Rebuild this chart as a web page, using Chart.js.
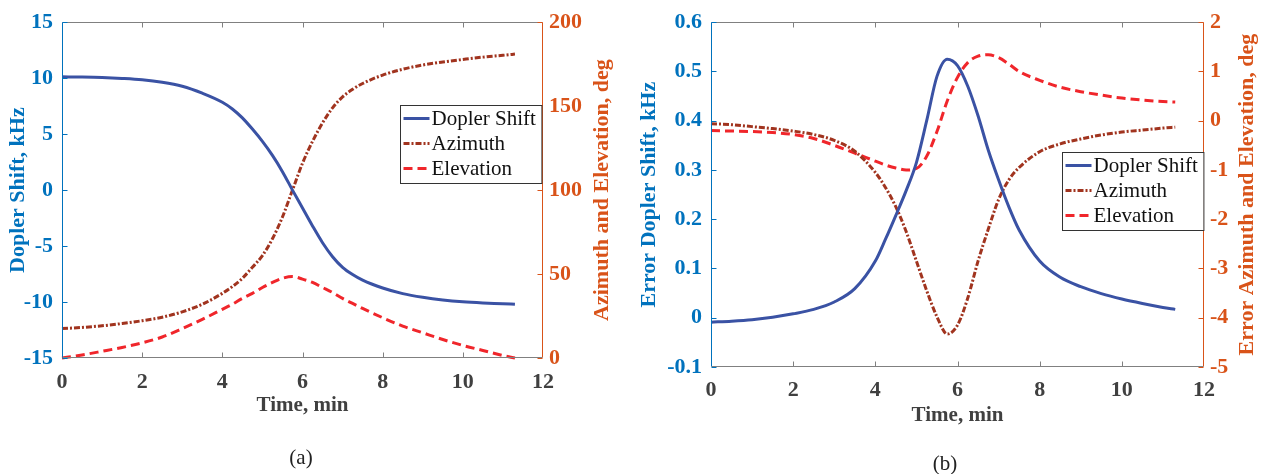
<!DOCTYPE html>
<html>
<head>
<meta charset="utf-8">
<script src="https://cdn.jsdelivr.net/npm/chart.js@4.4.1/dist/chart.umd.min.js"></script>
<style>
  body { margin: 0; background: #fff; width: 1267px; height: 474px; position: relative; overflow: hidden; }
  .box { position: absolute; top: 0; height: 474px; }
  #boxA { left: 0; width: 634px; }
  #boxB { left: 634px; width: 633px; }
  .cap { position: absolute; font: 21px "Liberation Serif", "Times New Roman", serif; color: #222; transform: translateX(-50%); line-height: 24px; }
</style>
</head>
<body>
<div class="box" id="boxA"><canvas id="chartA"></canvas></div>
<div class="box" id="boxB"><canvas id="chartB"></canvas></div>
<div class="cap" style="left:301px; top:445px">(a)</div>
<div class="cap" style="left:945px; top:451px">(b)</div>
<script>
// time axis (min), shared by all series
const time = [0, 0.5, 1, 1.5, 2, 2.5, 3, 3.5, 4, 4.25, 4.5, 4.75, 5, 5.25, 5.5, 5.75,
              6, 6.25, 6.5, 6.75, 7, 7.25, 7.5, 8, 8.5, 9, 9.5, 10, 10.5, 11, 11.3];

// (a) Doppler shift (kHz), azimuth and elevation (deg)
const dopplerA = [10.12, 10.10, 10.06, 9.98, 9.86, 9.64, 9.28, 8.66, 7.85, 7.25, 6.45, 5.45, 4.35, 3.1, 1.65, 0,
                  -1.6, -3.2, -4.7, -5.95, -6.9, -7.55, -8.05, -8.75, -9.25, -9.58, -9.82, -9.98, -10.08, -10.15, -10.2];
const azimuthA = [17.5, 18.2, 19.2, 20.5, 22.2, 24.3, 27.5, 32, 38.5, 42.5, 47.5, 54, 61, 71, 84, 100,
                  116, 129, 140, 149, 155.5, 160, 163.5, 168.5, 172, 174.5, 176.3, 177.8, 179.2, 180.3, 181];
const elevationA = [0, 1.8, 4, 6.3, 9, 12.5, 17.5, 23, 29, 32, 35.5, 38.5, 42, 45, 47.5, 48.5,
                    47, 45, 42, 39, 35.5, 32.5, 29.5, 24, 19, 15, 11, 7.5, 4.5, 1.5, 0];

// (b) errors
const dopplerB = [-0.009, -0.007, -0.004, 0.001, 0.008, 0.017, 0.032, 0.059, 0.115, 0.16, 0.208, 0.258, 0.315, 0.40, 0.49, 0.525,
                  0.512, 0.47, 0.41, 0.34, 0.28, 0.225, 0.178, 0.115, 0.082, 0.063, 0.049, 0.038, 0.029, 0.021, 0.017];
const azimuthB = [-0.06, -0.08, -0.12, -0.16, -0.21, -0.28, -0.4, -0.62, -1.05, -1.36, -1.75, -2.25, -2.85, -3.45, -3.98, -4.33,
                  -4.15, -3.6, -2.85, -2.2, -1.6, -1.2, -0.95, -0.63, -0.47, -0.37, -0.29, -0.23, -0.19, -0.15, -0.13];
const elevationB = [-0.2, -0.21, -0.22, -0.24, -0.28, -0.36, -0.5, -0.66, -0.82, -0.9, -0.96, -1.0, -0.97, -0.72, -0.22, 0.4,
                    0.88, 1.18, 1.31, 1.34, 1.28, 1.15, 1.0, 0.82, 0.68, 0.59, 0.52, 0.46, 0.42, 0.39, 0.38];

const seriesNames = ['Dopler Shift', 'Azimuth', 'Elevation'];

const BLUE = '#0072BD', ORANGE = '#D95319', GRAY = '#404040';
const SERIF = '"Liberation Serif", "Times New Roman", serif';
const tickFont = { family: SERIF, size: 22, weight: 'bold' };
const xTitleFont = { family: SERIF, size: 21, weight: 'bold' };
const yTitleFont = { family: SERIF, size: 22, weight: 'bold' };

const pts = arr => time.map((t, i) => ({ x: t, y: arr[i] }));
const fmt = v => String(Math.round(v * 100) / 100);

function makeDatasets(dop, az, el) {
  const common = { pointRadius: 0, borderWidth: 3, fill: false, cubicInterpolationMode: 'monotone', clip: 6 };
  return [
    { ...common, label: seriesNames[0], data: pts(dop), yAxisID: 'y', borderColor: '#3A52A4' },
    { ...common, label: seriesNames[1], data: pts(az), yAxisID: 'y1', borderColor: '#A1341F', borderDash: [6, 2, 2, 2] },
    { ...common, label: seriesNames[2], data: pts(el), yAxisID: 'y1', borderColor: '#F0262B', borderDash: [9, 5] }
  ];
}

// box, inward ticks, right-hand title and legend
const frame = {
  id: 'frame',
  afterDatasetsDraw(chart, args, opts) {
    const { ctx, chartArea: a, scales } = chart;
    const L = Math.round(a.left) + 0.5, R = Math.round(a.right) - 0.5;
    const T = Math.round(a.top) + 0.5, B = Math.round(a.bottom) - 0.5;
    const seg = (x1, y1, x2, y2, c) => {
      ctx.strokeStyle = c; ctx.beginPath(); ctx.moveTo(x1, y1); ctx.lineTo(x2, y2); ctx.stroke();
    };
    ctx.save();
    ctx.lineWidth = 1;
    seg(L, T, R, T, '#808080');
    seg(L, B, R, B, '#808080');
    scales.x.ticks.forEach(tk => {
      const x = Math.round(scales.x.getPixelForValue(tk.value)) + 0.5;
      if (x <= L + 1 || x >= R - 1) return;
      seg(x, B, x, B - 5, '#808080');
      seg(x, T, x, T + 5, '#808080');
    });
    scales.y.ticks.forEach(tk => {
      const y = Math.round(scales.y.getPixelForValue(tk.value)) + 0.5;
      seg(L, y, L + 5, y, BLUE);
    });
    scales.y1.ticks.forEach(tk => {
      const y = Math.round(scales.y1.getPixelForValue(tk.value)) + 0.5;
      seg(R, y, R - 5, y, ORANGE);
    });
    seg(L, T, L, B, BLUE);
    seg(R, T, R, B, ORANGE);

    // right axis title, reading bottom to top
    ctx.save();
    ctx.translate(opts.rightTitleX, (a.top + a.bottom) / 2);
    ctx.rotate(-Math.PI / 2);
    ctx.fillStyle = ORANGE;
    ctx.font = 'bold 22px ' + SERIF;
    ctx.textAlign = 'center';
    ctx.textBaseline = 'middle';
    ctx.fillText(opts.rightTitle, 0, 0);
    ctx.restore();

    // legend
    ctx.font = '21px ' + SERIF;
    const sets = chart.data.datasets;
    const tw = Math.max(...sets.map(d => ctx.measureText(d.label).width));
    const w = 3 + 26 + 3 + tw + 5, h = sets.length * 25 + 3;
    const x0 = Math.round(opts.legendRight - w) + 0.5, y0 = Math.round(opts.legendTop) + 0.5;
    ctx.fillStyle = '#fff';
    ctx.fillRect(x0, y0, w, h);
    ctx.strokeStyle = '#333';
    ctx.strokeRect(x0, y0, w, h);
    sets.forEach((d, i) => {
      const yc = y0 + 13 + i * 25;
      ctx.save();
      ctx.strokeStyle = d.borderColor;
      ctx.lineWidth = 3;
      ctx.setLineDash(d.borderDash || []);
      ctx.beginPath(); ctx.moveTo(x0 + 3, yc); ctx.lineTo(x0 + 29, yc); ctx.stroke();
      ctx.restore();
      ctx.fillStyle = '#111';
      ctx.textAlign = 'left';
      ctx.textBaseline = 'middle';
      ctx.fillText(d.label, x0 + 31, yc + 1);
    });
    ctx.restore();
  }
};

function makeChart(id, cfg) {
  const noGrid = { display: false, drawTicks: false };
  return new Chart(document.getElementById(id), {
    type: 'line',
    data: { datasets: makeDatasets(cfg.dop, cfg.az, cfg.el) },
    plugins: [frame],
    options: {
      responsive: true,
      maintainAspectRatio: false,
      animation: false,
      layout: { padding: { top: cfg.top, left: 0, right: 0, bottom: 0 } },
      plugins: {
        legend: { display: false },
        tooltip: { enabled: false },
        frame: { rightTitle: cfg.rightTitle, rightTitleX: cfg.rightTitleX, legendRight: cfg.legendRight, legendTop: cfg.legendTop }
      },
      scales: {
        x: {
          type: 'linear', min: 0, max: 12,
          grid: noGrid, border: { display: false },
          ticks: { stepSize: 2, color: GRAY, font: tickFont, padding: cfg.xPad, maxRotation: 0, callback: fmt },
          title: { display: true, text: 'Time, min', color: GRAY, font: xTitleFont, padding: { top: 0, bottom: cfg.xTitlePad } },
          afterFit: s => { s.height = cfg.xHeight; }
        },
        y: {
          position: 'left', min: cfg.yMin, max: cfg.yMax,
          grid: noGrid, border: { display: false },
          ticks: { stepSize: cfg.yStep, color: BLUE, font: tickFont, padding: 9, callback: fmt },
          title: { display: true, text: cfg.leftTitle, color: BLUE, font: yTitleFont, padding: { top: cfg.leftTitlePad, bottom: 0 } },
          afterFit: s => { s.width = cfg.leftW; }
        },
        y1: {
          position: 'right', min: cfg.y1Min, max: cfg.y1Max,
          grid: noGrid, border: { display: false },
          ticks: { stepSize: cfg.y1Step, color: ORANGE, font: tickFont, padding: 6, callback: fmt },
          afterFit: s => { s.width = cfg.rightW; }
        }
      }
    }
  });
}

makeChart('chartA', {
  dop: dopplerA, az: azimuthA, el: elevationA,
  top: 14, xHeight: 116, xPad: 11, xTitlePad: 56,
  leftW: 62, rightW: 91,
  yMin: -15, yMax: 15, yStep: 5, y1Min: 0, y1Max: 200, y1Step: 50,
  leftTitle: 'Dopler Shift, kHz', leftTitlePad: 5,
  rightTitle: 'Azimuth and Elevation, deg', rightTitleX: 602,
  legendRight: 541, legendTop: 105
});

makeChart('chartB', {
  dop: dopplerB, az: azimuthB, el: elevationB,
  top: 16, xHeight: 107, xPad: 10, xTitlePad: 46,
  leftW: 77, rightW: 63,
  yMin: -0.1, yMax: 0.6, yStep: 0.1, y1Min: -5, y1Max: 2, y1Step: 1,
  leftTitle: 'Error Dopler Shift, kHz', leftTitlePad: 2,
  rightTitle: 'Error Azimuth and Elevation, deg', rightTitleX: 613,
  legendRight: 569, legendTop: 152
});
</script>
</body>
</html>
